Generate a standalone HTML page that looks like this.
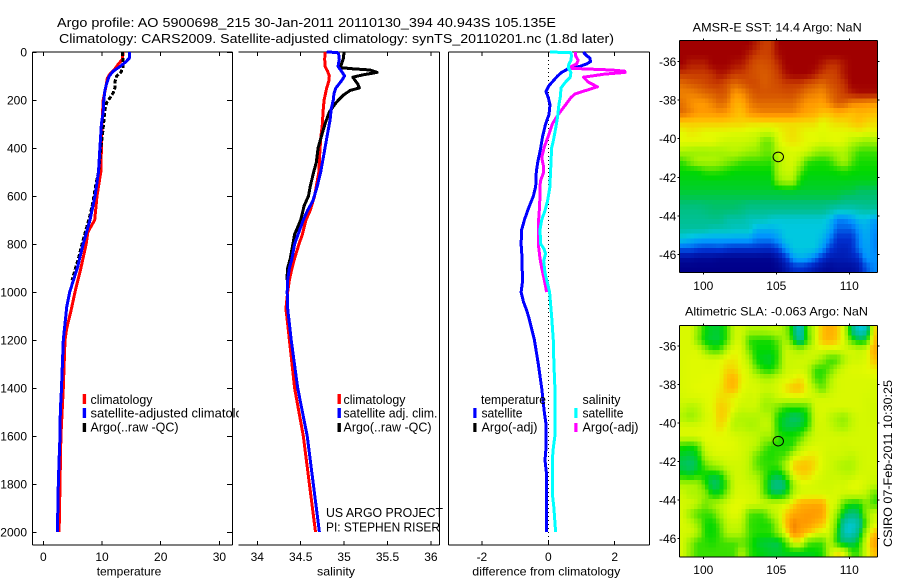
<!DOCTYPE html>
<html lang="en">
<head>
<meta charset="utf-8">
<title>Argo profile 5900698_215</title>
<style>
html,body{margin:0;padding:0;background:#fff;}
svg{display:block;font-family:"Liberation Sans",sans-serif;fill:#000;}
text{font-size:12px;}
.title{font-size:13px;}
.lg{font-size:12.5px;}
</style>
</head>
<body>
<svg id="figure" width="900" height="580" viewBox="0 0 900 580" xmlns="http://www.w3.org/2000/svg">
  <defs>
    <clipPath id="clip-legend-1"><rect x="80" y="385" width="159" height="60"/></clipPath>
    <clipPath id="clip-map-1"><rect x="679.3" y="40.3" width="198" height="232"/></clipPath>
    <clipPath id="clip-map-2"><rect x="679.3" y="325.7" width="198" height="231.3"/></clipPath>
  </defs>
  <rect x="0" y="0" width="900" height="580" fill="#fff"/>

  <text class="title" x="57" y="27" textLength="499" lengthAdjust="spacingAndGlyphs">Argo profile: AO 5900698_215 30-Jan-2011 20110130_394 40.943S 105.135E</text>
  <text class="title" x="59" y="43" textLength="555" lengthAdjust="spacingAndGlyphs">Climatology: CARS2009. Satellite-adjusted climatology: synTS_20110201.nc (1.8d later)</text>

  <g id="map1-cells" clip-path="url(#clip-map-1)" shape-rendering="crispEdges"></g>
  <g id="map2-cells" clip-path="url(#clip-map-2)" shape-rendering="crispEdges"></g>

  <g id="axes"></g>
  <g id="series"></g>

  <g>
    <rect x="82.7" y="394" width="3.4" height="10" fill="#f00"/>
    <rect x="82.7" y="408" width="3.4" height="10" fill="#00f"/>
    <rect x="82.7" y="423" width="3.4" height="9" fill="#000"/>
    <g clip-path="url(#clip-legend-1)">
      <text class="lg" x="90.5" y="404" textLength="62" lengthAdjust="spacingAndGlyphs">climatology</text>
      <text class="lg" x="90.5" y="417.5" textLength="166" lengthAdjust="spacingAndGlyphs">satellite-adjusted climatology</text>
      <text class="lg" x="90.5" y="431.5" textLength="88" lengthAdjust="spacingAndGlyphs">Argo(..raw -QC)</text>
    </g>
  </g>

  <g>
    <rect x="337.5" y="394" width="3.4" height="10" fill="#f00"/>
    <rect x="337.5" y="408" width="3.4" height="10" fill="#00f"/>
    <rect x="337.5" y="423" width="3.4" height="9" fill="#000"/>
    <text class="lg" x="343.5" y="404" textLength="62" lengthAdjust="spacingAndGlyphs">climatology</text>
    <text class="lg" x="343.5" y="417.5" textLength="94" lengthAdjust="spacingAndGlyphs">satellite adj. clim.</text>
    <text class="lg" x="343.5" y="431.5" textLength="88" lengthAdjust="spacingAndGlyphs">Argo(..raw -QC)</text>
    <text class="lg" x="326" y="517" textLength="117" lengthAdjust="spacingAndGlyphs">US ARGO PROJECT</text>
    <text class="lg" x="326" y="531.5" textLength="114" lengthAdjust="spacingAndGlyphs">PI: STEPHEN RISER</text>
  </g>

  <g>
    <rect x="473.3" y="408" width="3.2" height="10" fill="#00f"/>
    <rect x="473.3" y="423" width="3.2" height="9" fill="#000"/>
    <rect x="574.3" y="408" width="3.2" height="10" fill="#0ff"/>
    <rect x="574.3" y="423" width="3.2" height="9" fill="#f0f"/>
    <text class="lg" x="481" y="404" textLength="65" lengthAdjust="spacingAndGlyphs">temperature</text>
    <text class="lg" x="481.5" y="417.5" textLength="41" lengthAdjust="spacingAndGlyphs">satellite</text>
    <text class="lg" x="481.5" y="431.5" textLength="56" lengthAdjust="spacingAndGlyphs">Argo(-adj)</text>
    <text class="lg" x="582.5" y="404" textLength="38" lengthAdjust="spacingAndGlyphs">salinity</text>
    <text class="lg" x="582.5" y="417.5" textLength="41" lengthAdjust="spacingAndGlyphs">satellite</text>
    <text class="lg" x="582.5" y="431.5" textLength="56" lengthAdjust="spacingAndGlyphs">Argo(-adj)</text>
  </g>

  <text x="96.7" y="575.5" textLength="64.6" lengthAdjust="spacingAndGlyphs">temperature</text>
  <text x="317" y="575.5" textLength="38" lengthAdjust="spacingAndGlyphs">salinity</text>
  <text x="472.3" y="575.5" textLength="148" lengthAdjust="spacingAndGlyphs">difference from climatology</text>

  <text x="692.7" y="31.5" textLength="169" lengthAdjust="spacingAndGlyphs">AMSR-E SST: 14.4 Argo: NaN</text>
  <text x="685" y="315.5" textLength="183" lengthAdjust="spacingAndGlyphs">Altimetric SLA: -0.063 Argo: NaN</text>
  <text transform="translate(892,547) rotate(-90)" textLength="167" lengthAdjust="spacingAndGlyphs">CSIRO 07-Feb-2011 10:30:25</text>
</svg>

<script>
// ---------- tick labels ----------
const depthTicks = [0, 200, 400, 600, 800, 1000, 1200, 1400, 1600, 1800, 2000];
const tempTicks = [0, 10, 20, 30];
const salTicks = [34, 34.5, 35, 35.5, 36];
const diffTicks = [-2, 0, 2];
const lonTicks = [100, 105, 110];
const latTicks = [-36, -38, -40, -42, -44, -46];

// ---------- temperature panel ----------
const tempClimDepth = [0, 30, 50, 70, 90, 110, 140, 200, 300, 400, 500, 600, 700, 750, 800, 900, 1000, 1080, 1150, 1200, 1400, 1500, 1600, 1800, 2000];
const tempClimValues = [13.6, 13.5, 12.8, 12.2, 11.4, 10.9, 10.7, 10.2, 10.0, 9.9, 9.8, 9.15, 8.75, 7.6, 7.3, 6.4, 5.4, 4.7, 4.0, 3.7, 3.4, 3.2, 3.0, 2.85, 2.7];
const tempArgoDepth = [0, 60, 70, 85, 100, 125, 150, 170, 190, 210, 240, 290, 340, 400, 500, 560, 620, 680, 730, 800, 850, 900, 950];
const tempArgoValues = [13.5, 13.6, 13.5, 13.2, 12.5, 12.2, 12.2, 11.9, 11.4, 10.8, 10.5, 10.3, 10.1, 9.8, 9.4, 8.9, 8.5, 7.95, 7.4, 6.6, 6.1, 5.5, 4.9];
const tempSatDepth = [0, 25, 40, 60, 80, 100, 130, 160, 200, 250, 300, 400, 500, 600, 700, 800, 900, 1000, 1060, 1200, 1400, 1500, 1600, 1700, 1800, 2000];
const tempSatValues = [14.66, 14.66, 14.1, 13.1, 11.9, 11.25, 10.8, 10.5, 10.3, 10.2, 9.9, 9.65, 9.4, 8.8, 7.95, 6.8, 5.8, 4.5, 4.0, 3.4, 3.1, 2.9, 2.85, 2.7, 2.55, 2.4];

// ---------- salinity panel ----------
const salClimDepth = [0, 30, 60, 80, 100, 120, 150, 200, 250, 300, 360, 420, 500, 560, 600, 660, 700, 760, 800, 860, 900, 950, 1000, 1070, 1100, 1200, 1400, 1600, 1800, 2000];
const salClimValues = [34.78, 34.776, 34.78, 34.81, 34.83, 34.825, 34.80, 34.77, 34.757, 34.75, 34.73, 34.72, 34.71, 34.68, 34.66, 34.61, 34.56, 34.52, 34.48, 34.43, 34.40, 34.37, 34.35, 34.33, 34.34, 34.37, 34.43, 34.53, 34.60, 34.67];
const salArgoDepth = [0, 30, 50, 65, 70, 75, 85, 95, 105, 115, 135, 150, 160, 180, 210, 250, 300, 350, 400, 460, 500, 560, 600, 640, 700, 760, 800, 860, 900, 950];
const salArgoValues = [35.0, 34.99, 34.97, 34.96, 35.1, 35.3, 35.38, 35.22, 35.1, 35.12, 35.16, 35.175, 35.07, 34.99, 34.91, 34.83, 34.78, 34.74, 34.70, 34.68, 34.65, 34.61, 34.59, 34.54, 34.5, 34.43, 34.41, 34.38, 34.35, 34.34];
const salSatDepth = [0, 2, 8, 30, 60, 80, 100, 120, 150, 175, 200, 240, 280, 360, 400, 500, 560, 620, 660, 700, 760, 800, 860, 900, 950, 1000, 1070, 1100, 1200, 1400, 1600, 1800, 2000];
const salSatValues = [34.80, 34.92, 34.937, 34.945, 34.93, 34.97, 35.006, 34.97, 34.906, 34.883, 34.875, 34.85, 34.84, 34.80, 34.78, 34.73, 34.69, 34.64, 34.58, 34.53, 34.47, 34.43, 34.40, 34.37, 34.35, 34.345, 34.35, 34.36, 34.39, 34.465, 34.575, 34.645, 34.715];

// ---------- difference panel ----------
const diffTempSatDepth = [0, 15, 25, 40, 50, 60, 70, 85, 100, 120, 140, 165, 190, 220, 260, 300, 350, 400, 460, 500, 560, 600, 660, 700, 740, 800, 860, 960, 1000, 1040, 1070, 1100, 1200, 1300, 1400, 1500, 1550, 1650, 1700, 1750, 2000];
const diffTempSatValues = [1.05, 1.15, 1.25, 1.27, 1.15, 0.95, 0.6, 0.4, 0.28, 0.15, 0.02, -0.07, 0, 0.05, 0.02, -0.08, -0.17, -0.23, -0.32, -0.36, -0.38, -0.45, -0.62, -0.72, -0.8, -0.82, -0.79, -0.78, -0.82, -0.75, -0.67, -0.6, -0.42, -0.3, -0.2, -0.12, -0.07, -0.07, -0.1, -0.06, -0.06];
const diffSalArgoDepth = [0, 15, 35, 50, 60, 68, 75, 80, 85, 92, 105, 125, 145, 155, 175, 190, 220, 260, 300, 350, 400, 440, 480, 500, 540, 600, 660, 720, 800, 860, 900, 950, 1000];
const diffSalArgoValues = [0.82, 0.82, 0.9, 0.85, 0.7, 0.68, 1.9, 2.3, 2.31, 1.7, 1.06, 1.2, 1.48, 1.25, 0.8, 0.68, 0.52, 0.3, 0.12, 0, -0.13, -0.2, -0.14, -0.14, -0.24, -0.25, -0.27, -0.3, -0.3, -0.25, -0.2, -0.12, -0.05];
const diffSalSatDepth = [0, 3, 15, 35, 50, 65, 85, 105, 125, 150, 180, 220, 270, 320, 370, 400, 460, 520, 560, 620, 660, 700, 740, 800, 820, 840, 870, 920, 960, 1000, 1070, 1100, 1200, 1300, 1400, 1500, 1600, 1650, 1700, 1850, 1900, 2000];
const diffSalSatValues = [0.05, 0.68, 0.7, 0.68, 0.62, 0.6, 0.68, 0.66, 0.52, 0.38, 0.37, 0.32, 0.28, 0.22, 0.15, 0.1, 0.08, 0.06, 0.05, -0.02, -0.1, -0.2, -0.25, -0.23, -0.13, -0.08, -0.14, -0.1, -0.03, 0.04, 0.08, 0.1, 0.15, 0.17, 0.2, 0.2, 0.2, 0.15, 0.12, 0.13, 0.17, 0.22];

// ---------- float position ----------
const floatLon = 105.135;
const floatLat = -40.943;

// ---------- SST map (colour level per half-degree cell, north to south) ----------
const sstRows = [
[14,14,14,14,14,14,14,14,14,14,13.5,13,13,14,14,14,14,14,14,14,14,14,14,14,14,14,14],
[14,14,14,14,14,14,14,14,14,13.5,13,12.8,13,13.8,14,14,14,14,14,14,14,14,14,14,14,14,14],
[14,13.5,13.5,13.5,14,14,14,13.7,13.6,13,12.5,12.5,12.7,13.3,14,14,14,14,14,13.6,13.2,13.2,13.7,14,14,14,14],
[13,13,13,13,13.2,13.7,13.5,13,13,12.7,12.5,12.3,12.5,13,13.7,14,14,14,13.6,13,12.8,13,13.7,14,14,14,14],
[12,12.3,12.5,12.7,13,13,12.5,12,12.3,12.7,12.7,12.3,12.5,12.7,13,13,13,12.6,12.3,12,12.5,12.8,13.2,14,14,14,14],
[11.5,11.5,11.7,12,12.2,12.5,12.3,11,11.2,12,12.5,12.5,12.5,12.5,12.6,12.6,12.2,11.7,11.5,11.3,12,12.5,13,13.5,13.8,13.8,13.8],
[11.8,11.2,11,11,11.5,12,11.7,10.5,10.5,11.5,12,12,12,12,12,12,11.5,11,11,10.8,11.5,12.3,12.2,11.5,11.3,11.2,11],
[12,11.5,11,11,11,11.2,11,10.3,10,11,11.3,11.5,11.5,11.5,11.5,11.5,11,10.7,10.5,10,10,10.5,10.3,10,10.3,10.2,10],
[9.8,9.8,9.8,9.8,9.8,9.8,9.7,9.7,9.7,9.5,9.5,9.5,9.5,9.5,9.5,9.5,9.5,9.5,9.5,9,9.3,9.5,9.5,9.8,10,9.7,9.5],
[9,9.3,9.2,9,9,9,9,8.9,8.9,8.8,8.7,8.5,8.5,9,9.3,9.5,9.2,9,9,8.9,9,9,9,9,9.2,9,9],
[9,9,9,9,9,8.7,8.5,8.5,8.5,8.4,8.2,7,7,8.8,9.2,9.4,9.2,9,9,8.8,8.9,9,8.8,8.2,7.8,7.5,7.7],
[8,7.8,7.7,7.7,7.8,7.8,8,8.2,8,7.7,7.6,7,7,8.3,8.7,8.8,8.8,8.6,7.8,7.5,7.6,8,8,7.2,6.5,6.5,6.5],
[6.5,7.3,8,8,8,7.8,7.3,7,6.6,6.5,6.5,6.5,6.4,8,8.6,8.8,8,6.5,6.3,6.2,6.4,7.3,8,6.8,6.2,6.2,6.2],
[6,6,6,6.4,6.5,6.4,6.2,6,6,6,6,6,6,8,8.5,8.5,6.8,6,6,6,6,6.1,6.3,6.1,6,6,6],
[5.8,5.8,5.8,5.8,5.8,5.8,5.8,5.8,5.8,5.8,5.8,5.8,5.8,7.5,8,8,6,5.8,5.8,5.8,5.8,5.8,5.8,5.8,5.8,5.8,5.8],
[5.6,5.6,5.6,5.6,5.6,5.6,5.6,5.6,5.6,5.6,5.6,5.6,5.6,5.6,5.7,5.7,5.6,5.6,5.6,5.6,5.6,5.6,5.5,5.5,5.2,5.2,5.2],
[5.2,5.2,5.2,5.2,5.2,5.2,5.2,5.2,5.2,5.2,5.2,5.2,5.2,5.2,5.2,5.2,5.2,5.2,5.2,5.2,5.2,5.2,4.8,4.8,4.8,4.8,4.8],
[4.6,4.6,4.6,4.8,5,5,5,5,4.8,4.4,4.4,4.4,4.4,4.4,4.4,4.4,4.4,4.4,4.4,4.4,4,3.6,3.6,3.6,3.8,4,4],
[4.3,4.3,4.3,4.3,4.5,4.5,3.9,3.9,3.9,3.6,3.6,3.6,3.3,3.2,3.2,3.2,3.2,3.2,3.2,3.2,2.8,1.9,1.9,2.2,2.8,2.8,2.3],
[4,4,4,4,3.7,3.7,3.7,3.5,3.5,3.5,2.6,2.6,2.6,2.8,3,3,3,3,3,3,2.5,1.5,1.5,1.5,2.2,2.6,2],
[3,2.7,2.5,2.4,2.4,2.4,2.4,2.4,2.4,2.4,1.9,1.9,1.9,2.3,3,3,3,3,3,2.7,1.9,1,1,1,1.9,2.5,1.9],
[1.5,1.5,1.3,1.2,1.2,1.3,1.1,1,1,1,1,0.9,0.9,1.3,2.2,3,3,3,3,2.2,1.2,0.8,0.7,0.9,1.8,2.4,1.9],
[0.3,0.3,0.2,0.2,0.2,0.1,0.1,0.1,0.1,0.1,0.1,0.1,0.1,0.4,1,2.2,2.6,2.4,1.8,1,0.6,0.6,0.6,0.7,1,2.2,2],
[0,0,0,0,0,0,0,0,0,0,0,0,0,0.1,0.4,0.9,1,0.8,0.5,0.3,0.2,0.3,0.3,0.3,0.5,1.4,1.9]
];

// ---------- SLA map (colour level per half-degree cell, north to south) ----------
const slaRows = [
[8.8,8.8,7.5,6,5.6,5.6,6.5,8.5,8.6,8,8,8,8.2,8.3,7.5,5.5,3.2,7,8.5,10,10.5,10,8.5,5,3,3.5,9.5],
[8.8,8.8,7.3,5.8,5.5,5.5,6.5,8.6,8.6,6.4,6.2,6.2,6.2,7,8,6,4,6.5,8.6,10,10.3,9.8,8.7,6.5,5.5,6,10],
[8.8,8.8,8.8,7.5,6.4,6.5,8.2,9,8.8,7,6,6,6,6.5,8.5,8.2,7.8,8.4,8.7,8.8,8.7,8.7,8.7,8.7,8.4,8.7,10.5],
[8.8,8.9,8.9,8.9,8.8,8.9,9.2,9.3,8.9,8,6,5.7,5.6,6.5,8.5,8.5,8.6,8.6,8.4,7.5,6.5,6.5,8,8.6,8.6,8.8,10],
[8.8,8.9,8.9,8.9,8.9,9,9.6,9.6,9,8.6,7,6.2,6,7,8.5,8.6,8.6,8.3,6.5,6.3,6.8,8,8.7,8.9,8.9,9,9.2],
[8.8,8.9,8.9,9,9,9,10,10.3,9.2,8.8,8.5,8,8,8.6,8.8,9,9.4,8.7,6.6,6.4,7.8,8.7,8.8,8.8,8.8,8.8,8.8],
[8.8,8.9,9,9,9,9.2,10,10.2,9,8.8,8.8,8.6,8.6,8.8,9.4,10,10,9,8,6.8,8.2,8.7,8.8,8.8,8.8,8.8,8.7],
[8.7,8.8,8.8,8.9,9,9.5,9.4,9,8.8,8.6,8.7,8,8,8.6,8.7,8.8,8.8,8.7,8.7,8.7,8.7,8.8,8.8,8.8,8.8,8.7,8.7],
[8.4,8,8.2,8.8,9,9.8,9.6,9,8.5,8.6,8.5,7.7,7.7,7,6.3,6.3,6.3,6.6,8.7,8.8,8.8,8.8,8.8,8.8,8.8,8.7,8.6],
[8,7.6,8,8.7,8.9,9.8,9.5,8.2,8,8,8,8.3,8,6,5.5,5,5.2,6,8.5,8.8,8.3,7.8,7.5,8.3,8.7,8.7,8.6],
[8.8,8.8,8.8,8.9,9,9.5,9,8.1,8.2,7.9,8,8.4,8.2,6,5.4,5.4,5.6,6.3,8.5,8.7,8.5,8,7.8,8.4,8.7,8.7,8.7],
[8.8,8.8,8.9,9,9,9,8.9,8.8,8.6,8.5,8.3,7.8,7.8,6.4,6.2,6.2,6.6,8,8.6,8.7,8.7,8.7,8.7,8.7,8.7,8.7,8.7],
[6.2,6,6.5,8.7,8.9,9,9,8.9,8.7,8.5,8.2,7,6.3,6.3,6.2,6.3,8,8.6,8.8,8.8,8.7,8.7,8.6,8.7,8.7,8.7,8.7],
[5.6,5.4,5.8,8,8.7,8.8,8.8,8.8,8.7,8.3,7,6.4,6.2,6.5,6.6,8.4,9,9.3,9.3,8.8,8.6,8.6,8.5,8.3,8.6,8.7,8.7],
[5.2,5,5.4,6.8,7.6,8,8.6,8.6,8.6,8.2,6.8,6.5,6.4,6.6,8,9.7,10,10,9.5,8.8,8.6,8.2,7.9,7.9,8.5,8.7,8.7],
[6,5.7,6.2,6,5.6,5.8,7.5,8.6,8.6,8.2,7.8,6.8,5.8,5.4,6.5,8.9,9.6,9.6,9,8.7,8.5,8.5,8.3,8.3,8.7,8.7,8.6],
[8,8,7.8,6.4,5,5.3,6.6,8.6,8.7,8.6,8.4,6.8,5,4.5,5,7.5,8.8,8.8,8.7,8.6,8.6,8.7,8.7,9,9,8.7,8.4],
[8.6,8,8,7.5,6,6,7.4,8.7,8.8,8.7,8.6,7,5.6,5.4,6,8,8.7,8.8,8.8,8.8,8.7,8.8,8.6,8.6,8.6,8.2,6.8],
[8.7,8.7,8.2,7,7.8,8.2,8.7,9,9,8.8,8.7,8.6,8.5,8.6,8.8,9.5,10.4,10.5,10.6,10.5,9,8.6,6.5,6,6,7.3,6.5],
[8.7,7.5,6.6,6.5,6.6,7.8,8.7,9,8.7,6.8,6.5,6.6,8,8.6,9.6,10.5,10.8,11,11,10.8,9,7.5,5.5,4.8,5.2,7.5,8.5],
[8.8,8.4,7.5,6.2,6,6.8,8.3,8.5,8.3,6.5,6.3,6.2,6.4,8,10,11.5,11,11,10.5,10,8.8,6.8,3.8,3.2,4,7,8.7],
[8.7,8.7,8,6.2,6,6.5,8,8.2,8,6.6,6.3,6.3,6.4,7.5,9,11.3,10.7,10,9.2,8.8,8.6,6.2,3.5,3.3,4.8,8,10],
[8.7,7.5,6.5,6.4,6.2,6.5,6.6,6.6,6.8,6.5,5.7,5.5,5.4,5.3,6.5,8.8,9,6.8,6.5,6.5,8.2,6,5,5,6,8.8,10.8],
[8.7,7.4,6.5,6.5,6.5,6.5,6.5,6.6,8,6.5,6,5.8,5.6,5.6,5.8,5.8,5.8,5.8,5.9,6.2,8.2,9.5,8.8,6.6,6.5,8.8,10]
];

const levelColors = [[0,0,138],[0,48,208],[0,144,255],[0,200,224],[0,192,160],[0,192,112],[0,216,0],[112,232,0],[175,245,0],[228,250,0],[255,192,0],[255,153,0],[224,106,0],[200,60,0],[160,0,0]];

// ---------- axis functions ----------
const NS = 'http://www.w3.org/2000/svg';
const yDepth = d => 52 + d * 0.24;
const xTemp = t => 43.3 + t * 5.87;
const xSal = s => 257.3 + (s - 34) * 86.8;
const xDiff = v => 548.3 + v * 33.2;
const xLon = lon => 776.3 + (lon - 105) * 14.6;
const yLat1 = lat => 138.7 + (-40 - lat) * 19.3;
const yLat2 = lat => 423 + (-40 - lat) * 19.25;
const axesLayer = document.getElementById('axes');
const seriesLayer = document.getElementById('series');

function levelColor(v) {
  const c = Math.max(0, Math.min(levelColors.length - 1, v));
  const i = Math.min(levelColors.length - 2, Math.floor(c));
  const f = c - i;
  const a = levelColors[i], b = levelColors[i + 1];
  return 'rgb(' + [0, 1, 2].map(k => Math.round(a[k] + (b[k] - a[k]) * f)).join(',') + ')';
}

function makeLine(x1, y1, x2, y2, name) {
  const el = document.createElementNS(NS, 'line');
  el.setAttribute('x1', x1);
  el.setAttribute('y1', y1);
  el.setAttribute('x2', x2);
  el.setAttribute('y2', y2);
  el.setAttribute('stroke', '#000');
  el.setAttribute('stroke-width', '1');
  el.setAttribute('shape-rendering', 'crispEdges');
  
  
  axesLayer.appendChild(el);
}

function makeLabel(x, y, str, anchor, name) {
  const el = document.createElementNS(NS, 'text');
  el.setAttribute('x', x);
  el.setAttribute('y', y);
  el.setAttribute('text-anchor', anchor);
  el.textContent = str;
  
  
  axesLayer.appendChild(el);
}

function drawProfile(depths, values, xFn, color, name, dash) {
  const el = document.createElementNS(NS, 'polyline');
  el.setAttribute('points', depths.map((d, i) => xFn(values[i]).toFixed(1) + ',' + yDepth(d).toFixed(1)).join(' '));
  el.setAttribute('fill', 'none');
  el.setAttribute('stroke', color);
  el.setAttribute('stroke-width', '3');
  el.setAttribute('stroke-linejoin', 'round');
  el.setAttribute('shape-rendering', 'crispEdges');
  if (dash) el.setAttribute('stroke-dasharray', dash);
  
  
  seriesLayer.appendChild(el);
}

function sampleRows(rows, u, v) {
  const maxR = rows.length - 1;
  const maxC = rows[0].length - 1;
  const cu = Math.max(0, Math.min(maxC, u));
  const cv = Math.max(0, Math.min(maxR, v));
  const c0 = Math.floor(cu), r0 = Math.floor(cv);
  const c1 = Math.min(maxC, c0 + 1), r1 = Math.min(maxR, r0 + 1);
  const fu = cu - c0, fv = cv - r0;
  const top = rows[r0][c0] * (1 - fu) + rows[r0][c1] * fu;
  const bot = rows[r1][c0] * (1 - fu) + rows[r1][c1] * fu;
  return top * (1 - fv) + bot * fv;
}

// Each half-degree value is painted as 2x2 quarter-degree pixels, shaded towards its neighbours.
function drawMap(groupId, rows, left, right, top, bottom, cellName) {
  const group = document.getElementById(groupId);
  const nRows = rows.length * 2;
  const nCols = rows[0].length * 2;
  const h = (bottom - top) / nRows;
  const w = (right - left) / nCols;
  for (let r = 0; r < nRows; r++) {
    for (let c = 0; c < nCols; c++) {
      const v = sampleRows(rows, (c + 0.5) / 2 - 0.5, (r + 0.5) / 2 - 0.5);
      const el = document.createElementNS(NS, 'rect');
      el.setAttribute('x', (left + c * w).toFixed(2));
      el.setAttribute('y', (top + r * h).toFixed(2));
      el.setAttribute('width', (w + 0.5).toFixed(2));
      el.setAttribute('height', (h + 0.5).toFixed(2));
      el.setAttribute('fill', levelColor(v));
      
      
      group.appendChild(el);
    }
  }
}

function drawMapFrame(prefix, left, right, top, bottom, yFn, labelBase) {
  makeLine(left, top, right, top, prefix + '-frame-top');
  makeLine(left, bottom, right, bottom, prefix + '-frame-bottom');
  makeLine(left, top, left, bottom, prefix + '-frame-left');
  makeLine(right, top, right, bottom, prefix + '-frame-right');
  lonTicks.forEach(lon => {
    makeLine(xLon(lon), top - 2, xLon(lon), top, prefix + '-top-tick');
    makeLine(xLon(lon), bottom, xLon(lon), bottom + 2, prefix + '-bottom-tick');
    makeLabel(xLon(lon), labelBase, String(lon), 'middle', prefix + '-lon-label');
  });
  latTicks.forEach(lat => {
    makeLine(left - 2, yFn(lat), left, yFn(lat), prefix + '-left-tick');
    makeLine(right, yFn(lat), right + 2, yFn(lat), prefix + '-right-tick');
    makeLabel(left - 3, yFn(lat) + 4.5, String(lat), 'end', prefix + '-lat-label');
  });
  const circle = document.createElementNS(NS, 'ellipse');
  circle.setAttribute('cx', xLon(floatLon));
  circle.setAttribute('cy', yFn(floatLat));
  circle.setAttribute('rx', '5.2');
  circle.setAttribute('ry', '4.8');
  circle.setAttribute('fill', 'none');
  circle.setAttribute('stroke', '#000');
  circle.setAttribute('stroke-width', '1');
  
  
  axesLayer.appendChild(circle);
}

// ---------- heatmaps ----------
drawMap('map1-cells', sstRows, 679.3, 877.3, 40.3, 272.3, 'sst-cell');
drawMap('map2-cells', slaRows, 679.3, 877.3, 325.7, 557, 'sla-cell');

// ---------- profile panel frames ----------
const top0 = 52, bot0 = 545;
makeLine(32.5, top0, 232.5, top0, 'temperature-frame-top');
makeLine(32.5, bot0, 232.5, bot0, 'temperature-frame-bottom');
makeLine(32.5, top0, 32.5, bot0, 'temperature-frame-left');
makeLine(232.5, top0, 232.5, bot0, 'temperature-frame-right');
makeLine(238.5, top0, 439.5, top0, 'salinity-frame-top');
makeLine(238.5, bot0, 439.5, bot0, 'salinity-frame-bottom');
makeLine(439.5, top0, 439.5, bot0, 'salinity-frame-right');
makeLine(448.5, top0, 649.5, top0, 'difference-frame-top');
makeLine(448.5, bot0, 649.5, bot0, 'difference-frame-bottom');
makeLine(448.5, top0, 448.5, bot0, 'difference-frame-left');
makeLine(649.5, top0, 649.5, bot0, 'difference-frame-right');

depthTicks.forEach(d => {
  const y = Math.round(yDepth(d)) + 0.5;
  makeLine(32.5, y, 36.5, y, 'depth-tick-left');
  makeLine(227, y, 232.5, y, 'depth-tick-right');
  makeLabel(27, yDepth(d) + 4.5, String(d), 'end', 'depth-tick-label');
});
tempTicks.forEach(t => {
  makeLine(xTemp(t), top0, xTemp(t), top0 + 4, 'temperature-tick-top');
  makeLine(xTemp(t), bot0 - 4, xTemp(t), bot0, 'temperature-tick-bottom');
  makeLabel(xTemp(t), 561, String(t), 'middle', 'temperature-tick-label');
});
salTicks.forEach(s => {
  makeLine(xSal(s), top0, xSal(s), top0 + 4, 'salinity-tick-top');
  makeLine(xSal(s), bot0 - 4, xSal(s), bot0, 'salinity-tick-bottom');
  makeLabel(xSal(s), 561, String(s), 'middle', 'salinity-tick-label');
});
diffTicks.forEach(v => {
  makeLine(xDiff(v), top0, xDiff(v), top0 + 4, 'difference-tick-top');
  makeLine(xDiff(v), bot0 - 4, xDiff(v), bot0, 'difference-tick-bottom');
  makeLabel(xDiff(v), 561, String(v), 'middle', 'difference-tick-label');
});

const zeroLine = document.createElementNS(NS, 'line');
zeroLine.setAttribute('x1', xDiff(0));
zeroLine.setAttribute('y1', top0);
zeroLine.setAttribute('x2', xDiff(0));
zeroLine.setAttribute('y2', bot0);
zeroLine.setAttribute('stroke', '#000');
zeroLine.setAttribute('stroke-width', '1');
zeroLine.setAttribute('stroke-dasharray', '1 3');
zeroLine.setAttribute('shape-rendering', 'crispEdges');


axesLayer.appendChild(zeroLine);

// ---------- map frames ----------
drawMapFrame('sst-map', 679.3, 877.3, 40.3, 272.3, yLat1, 290);
drawMapFrame('sla-map', 679.3, 877.3, 325.7, 557, yLat2, 574);

// ---------- profiles ----------
drawProfile(tempClimDepth, tempClimValues, xTemp, '#f00', 'temperature-climatology-line');
drawProfile(tempArgoDepth, tempArgoValues, xTemp, '#000', 'temperature-argo-line', '4 2');
drawProfile(tempSatDepth, tempSatValues, xTemp, '#00f', 'temperature-satellite-line');
drawProfile(salClimDepth, salClimValues, xSal, '#f00', 'salinity-climatology-line');
drawProfile(salArgoDepth, salArgoValues, xSal, '#000', 'salinity-argo-line');
drawProfile(salSatDepth, salSatValues, xSal, '#00f', 'salinity-satellite-line');
drawProfile(diffTempSatDepth, diffTempSatValues, xDiff, '#00f', 'difference-temperature-satellite-line');
drawProfile(diffSalArgoDepth, diffSalArgoValues, xDiff, '#f0f', 'difference-salinity-argo-line');
drawProfile(diffSalSatDepth, diffSalSatValues, xDiff, '#0ff', 'difference-salinity-satellite-line');
</script>
</body>
</html>
